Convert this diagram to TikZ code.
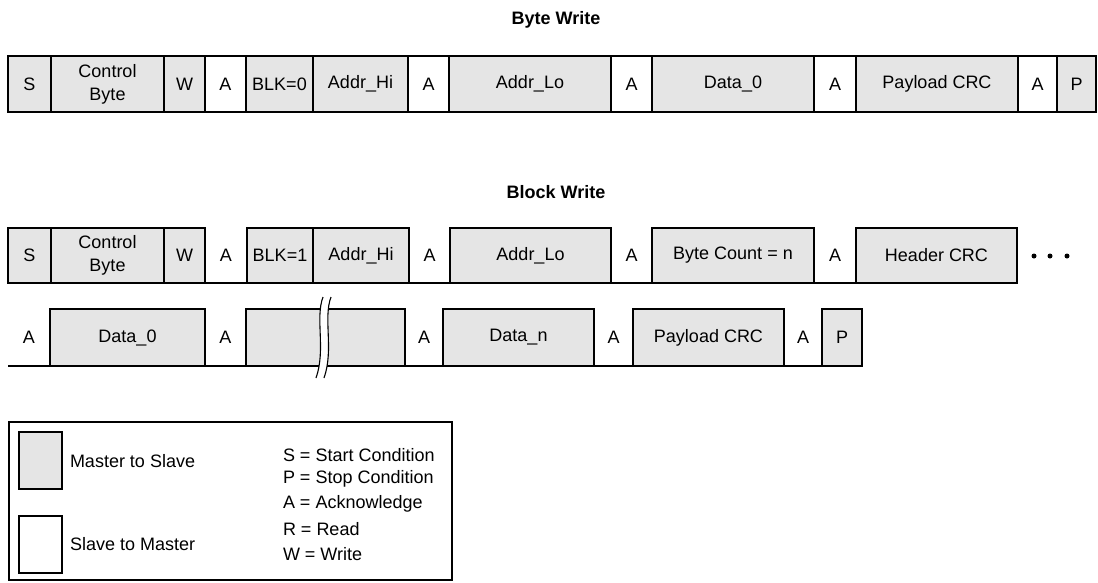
\documentclass[tikz,border=0pt]{standalone}
\usepackage{fontspec}
\setmainfont{Liberation Sans}
\begin{document}
\begin{tikzpicture}[x=1pt,y=-1pt,
  base/.style={inner sep=0pt, outer sep=0pt, align=center, font=\fontsize{18}{23}\selectfont},
  ms/.style={base, draw=black, line width=1.6pt, fill=black!10},
  sm/.style={base, draw=black, line width=1.6pt, fill=white},
  plain/.style={base},
  title/.style={base, font=\fontsize{18}{22}\selectfont\bfseries},
  legtext/.style={base, anchor=west},
  rule/.style={line width=1.6pt},
  dot/.style={circle, fill=black, inner sep=0pt, minimum size=5pt}]
\useasboundingbox (0,0) rectangle (1098,582);
\newcommand\fieldcell[7]{%
  \pgfmathsetmacro\cw{#4-#3}\pgfmathsetmacro\ch{#6-#5}%
  \node[#1, minimum width=\cw pt, minimum height=\ch pt] (#2) at ({(#3+#4)/2},{(#5+#6)/2}) {#7};}
% titles
\node[title] (t1) at (556,20) {Byte Write};
\node[title] (t2) at (556,192) {Block Write};
% Byte write row
\fieldcell{ms}{bS}{8}{51}{56}{112}{S}
\fieldcell{ms}{bCB}{51}{164}{56}{112}{Control\\Byte}
\fieldcell{ms}{bW}{164}{205}{56}{112}{W}
\fieldcell{sm}{bA1}{205}{246}{56}{112}{A}
\fieldcell{ms}{bBLK}{246}{313}{56}{112}{BLK=0}
\fieldcell{ms}{bAH}{313}{408}{56}{112}{Addr\_Hi}
\fieldcell{sm}{bA2}{408}{449}{56}{112}{A}
\fieldcell{ms}{bAL}{449}{611}{56}{112}{Addr\_Lo}
\fieldcell{sm}{bA3}{611}{652}{56}{112}{A}
\fieldcell{ms}{bD0}{652}{814}{56}{112}{Data\_0}
\fieldcell{sm}{bA4}{814}{856}{56}{112}{A}
\fieldcell{ms}{bPC}{856}{1018}{56}{112}{Payload CRC}
\fieldcell{sm}{bA5}{1018}{1057}{56}{112}{A}
\fieldcell{ms}{bP}{1057}{1096}{56}{112}{P}
% Block write row 1
\coordinate (r1s) at (8,283);
\coordinate (r1e) at (1017,283);
\draw[rule] (r1s) -- (r1e);
\fieldcell{ms}{kS}{8}{51}{228}{283}{S}
\fieldcell{ms}{kCB}{51}{164}{228}{283}{Control\\Byte}
\fieldcell{ms}{kW}{164}{205}{228}{283}{W}
\fieldcell{plain}{kA1}{205}{247}{228}{283}{A}
\fieldcell{ms}{kBLK}{247}{313}{228}{283}{BLK=1}
\fieldcell{ms}{kAH}{313}{409}{228}{283}{Addr\_Hi}
\fieldcell{plain}{kA2}{409}{450}{228}{283}{A}
\fieldcell{ms}{kAL}{450}{611}{228}{283}{Addr\_Lo}
\fieldcell{plain}{kA3}{611}{652}{228}{283}{A}
\fieldcell{ms}{kBC}{652}{814}{228}{283}{Byte Count = n}
\fieldcell{plain}{kA4}{814}{856}{228}{283}{A}
\fieldcell{ms}{kHC}{856}{1017}{228}{283}{Header CRC}
\node[dot] (d1) at (1034,256) {};
\node[dot] (d2) at (1050,256) {};
\node[dot] (d3) at (1067,256) {};
% Block write row 2
\coordinate (r2s) at (8,366);
\coordinate (r2e) at (862,366);
\draw[rule] (r2s) -- (r2e);
\fieldcell{plain}{mA0}{8}{50}{309}{366}{A}
\fieldcell{ms}{mD0}{50}{205}{309}{366}{Data\_0}
\fieldcell{plain}{mA1}{205}{246}{309}{366}{A}
\fieldcell{ms}{mDX}{246}{405}{309}{366}{}
\fill[white] (323,297) .. controls (315,318) and (326,350) .. (316,378)
  -- (324,378) .. controls (334,350) and (323,318) .. (331,297) -- cycle;
\draw[line width=1.1pt] (323,297) .. controls (315,318) and (326,350) .. (316,378);
\draw[line width=1.1pt] (331,297) .. controls (323,318) and (334,350) .. (324,378);
\fieldcell{plain}{mA2}{405}{443}{309}{366}{A}
\fieldcell{ms}{mDn}{443}{594}{309}{366}{Data\_n}
\fieldcell{plain}{mA3}{594}{633}{309}{366}{A}
\fieldcell{ms}{mPC}{633}{784}{309}{366}{Payload CRC}
\fieldcell{plain}{mA4}{784}{822}{309}{366}{A}
\fieldcell{ms}{mP}{822}{862}{309}{366}{P}
% Legend
\fieldcell{sm}{leg}{9}{452}{422}{580}{}
\fieldcell{ms}{lms}{19}{62}{432}{489}{}
\fieldcell{sm}{lsm}{19}{62}{516}{573}{}
\node[legtext] (lmst) at (70,461) {Master to Slave};
\node[legtext] (lsmt) at (70,544) {Slave to Master};
\node[legtext] (k1) at (283,455) {S = Start Condition};
\node[legtext] (k2) at (283,479) {P = Stop Condition};
\node[legtext] (k3) at (283,504) {A = Acknowledge};
\node[legtext] (k4) at (283,529) {R = Read};
\node[legtext] (k5) at (283,554) {W = Write};
\end{tikzpicture}
\end{document}
